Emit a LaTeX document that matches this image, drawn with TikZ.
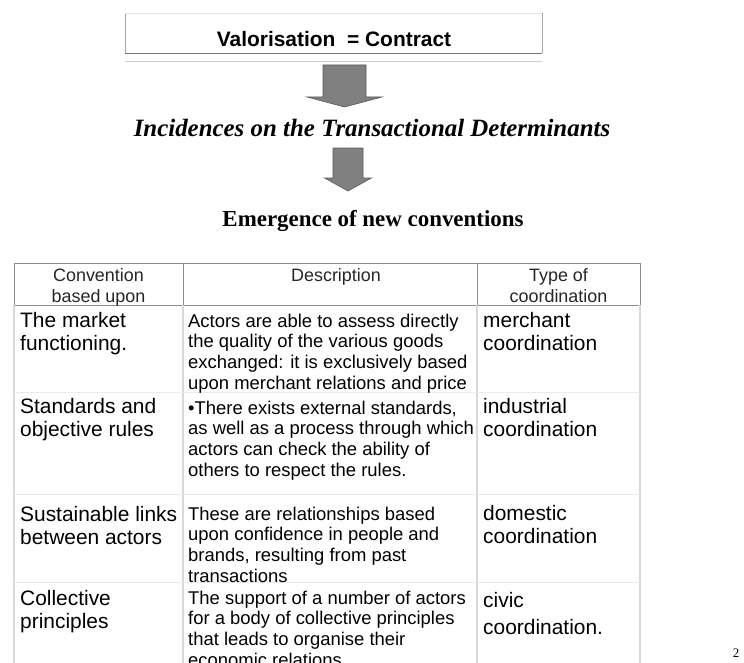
\documentclass[tikz,border=0pt]{standalone}
\usepackage{fontspec}
\setmainfont{Liberation Serif}
\setsansfont{Liberation Sans}
\def\blockarrow[#1](#2,#3)(#4:#5:#6:#7){\draw[#1] (#2-#4/2,#3) -- (#2+#4/2,#3) -- (#2+#4/2,#3+#5) -- (#2+#6/2,#3+#5) -- (#2,#3+#5+#7) -- (#2-#6/2,#3+#5) -- (#2-#4/2,#3+#5) -- cycle;}

\begin{document}
\begin{tikzpicture}[x=1bp, y=-1bp,
	cellbig/.style={anchor=north west, inner sep=0pt, align=left, font=\sffamily\fontsize{21}{23.5}\selectfont},
	celldesc/.style={anchor=north west, inner sep=0pt, align=left, font=\sffamily\fontsize{18.5}{21}\selectfont},
	headtxt/.style={anchor=north, inner sep=0pt, align=center, text=black!85, font=\sffamily\fontsize{18}{20.5}\selectfont},
	headline/.style={draw=black!45, line width=0.8bp},
	gridline/.style={draw=black!15, line width=1.2bp},
	rowline/.style={draw=black!8, line width=1bp},
	shaftarrow/.style={fill=black!50, draw=black!65, line width=0.6bp}]
			%%%%% START %%%%%
			\useasboundingbox (0,0) rectangle (744,663);
			
			\node[minimum width=417bp, minimum height=40bp, inner sep=0pt] (valbox) at (333.5,33) {};
			\draw[black!35] (valbox.north west) -- (valbox.south west);
			\draw[black!35] (valbox.north east) -- (valbox.south east);
			\draw[black!55] (valbox.south west) -- (valbox.south east);
			\draw[black!10] (valbox.north west) -- (valbox.north east);
			\draw[black!20] ([yshift=-8bp]valbox.south west) -- ([yshift=-8bp]valbox.south east);
			\node[anchor=base, font=\sffamily\bfseries\fontsize{21}{24}\selectfont] (val) at (334,47) {Valorisation\ \ = Contract};
			
			\blockarrow[shaftarrow](344.5,65)(43:32:75:10)
			\node[anchor=base, font=\bfseries\itshape\fontsize{25}{28}\selectfont] (incid) at (372,137) {Incidences on the Transactional Determinants};
			
			\blockarrow[shaftarrow](348,148)(30:30:47:13)
			\node[anchor=base, font=\bfseries\fontsize{23}{26}\selectfont] (emerg) at (373,226) {Emergence of new conventions};
			
			% header
			\draw[headline] (14,263) rectangle (640,305);
			\draw[headline] (183,263) -- (183,305) (477,263) -- (477,305);
			\node[headtxt] (h1) at (98.5,268.5) {Convention\\based upon};
			\node[headtxt] (h2) at (336,268.5) {Description};
			\node[headtxt] (h3) at (558.5,268.5) {Type of\\coordination};
			
			\foreach \x in {14,183,477,640} \draw[gridline] (\x,305) -- (\x,663);
			\foreach \y in {392,494,582} \draw[rowline] (14,\y) -- (640,\y);
			
			% rows
			\node[cellbig] (c11) at (20,312) {The market\\functioning.};
			\node[celldesc] (c12) at (188,313.5) {Actors are able to assess directly\\the quality of the various goods\\exchanged: it is exclusively based\\upon merchant relations and price};
			\node[cellbig] (c13) at (483,312) {merchant\\coordination};
			
			\node[cellbig] (c21) at (20,398) {Standards and\\objective rules};
			\node[celldesc] (c22) at (188,400.5) {•There exists external standards,\\as well as a process through which\\actors can check the ability of\\others to respect the rules.};
			\node[cellbig] (c23) at (483,398) {industrial\\coordination};
			
			\node[cellbig] (c31) at (20,506) {Sustainable links\\between actors};
			\node[celldesc] (c32) at (188,506.5) {These are relationships based\\upon confidence in people and\\brands, resulting from past\\transactions};
			\node[cellbig] (c33) at (483,505) {domestic\\coordination};
			
			\node[cellbig] (c41) at (20,590) {Collective\\principles};
			\node[celldesc] (c42) at (188,590.5) {The support of a number of actors\\for a body of collective principles\\that leads to organise their\\economic relations};
			\node[cellbig] (c43) at (483,592) {civic\\[3.5bp]coordination.};
			
			\node[font=\fontsize{13}{15}\selectfont] (pnum) at (736,653.5) {2};
			%%%%% END %%%%%
\end{tikzpicture}
\end{document}
